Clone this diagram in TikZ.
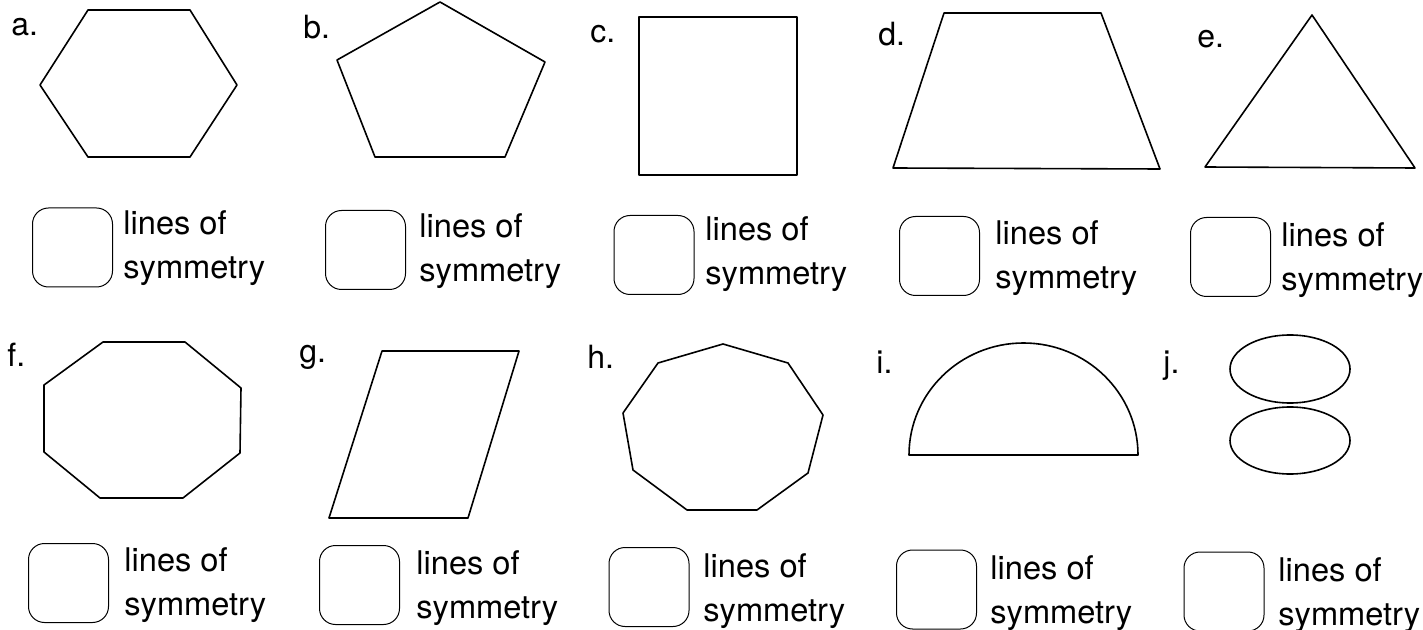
\documentclass[tikz,border=0pt]{standalone}
\usepackage{fontspec}
\setmainfont{TeX Gyre Heros}
\begin{document}
\begin{tikzpicture}[x=0.5pt,y=-0.5pt,
  outline/.style={line width=0.8pt,line join=round},
  tag/.style={anchor=base west,inner sep=0pt,font=\fontsize{16}{19}\selectfont},
  ansbox/.style={draw,line width=0.5pt,rounded corners=8pt,minimum width=40pt,minimum height=39.5pt,inner sep=0pt},
  anstext/.style={anchor=north west,inner sep=0pt,align=left,font=\fontsize{16.3}{22}\selectfont}]
  \useasboundingbox (0,0) rectangle (1423,630);
  % letters a. to j.
  \foreach \n/\x/\y in {a/11/36, b/303/39, c/590/43, d/878/46, e/1197/48,
                        f/7/366, g/299/363, h/587/369, i/876/373, j/1163/373}
    \node[tag] (tag\n) at (\x,\y) {\n.};
  % answer boxes with their text
  \foreach \n/\x/\y/\tx/\ty in {a/72.5/247.5/123/210, b/365.5/250/419/213,
      c/654/255/705/216, d/939.5/256/995/220, e/1230.5/257/1281/222,
      f/68.5/583/124/547, g/359.5/585/416/550, h/649/587/703/553,
      i/936.5/589.5/990/555, j/1224/591.5/1278/557} {
    \node[ansbox] (box\n) at (\x,\y) {};
    \node[anstext] (txt\n) at (\tx,\ty) {lines of\\symmetry};
  }
  % top row
  \draw[outline] (88,10) -- (190,10) -- (237,85) -- (190,157) -- (88,157) -- (40,85) -- cycle;
  \draw[outline] (440,2) -- (545,62) -- (505,157) -- (375,157) -- (337,60) -- cycle;
  \draw[outline] (639,17) rectangle (797,175);
  \draw[outline] (944,13) -- (1101,13) -- (1160,169) -- (893,168) -- cycle;
  \draw[outline] (1312,15) -- (1415,168) -- (1205,167) -- cycle;
  % bottom row
  \draw[outline] (103,342) -- (185,342) -- (241,388) -- (240,453) -- (183,498)
    -- (100,498) -- (44,452) -- (44,385) -- cycle;
  \draw[outline] (382,351) -- (519,351) -- (468,518) -- (329,518) -- cycle;
  \draw[outline] (723,344) -- (788,363) -- (823,415) -- (808,473) -- (757,510)
    -- (687,510) -- (633,470) -- (623,413) -- (658,363) -- cycle;
  \draw[outline] (909,455) arc[start angle=180,end angle=360,x radius=114.5,y radius=112] -- cycle;
  \draw[outline] (1290,369) ellipse [x radius=60,y radius=34];
  \draw[outline] (1290,440.5) ellipse [x radius=60,y radius=33.5];
\end{tikzpicture}
\end{document}
